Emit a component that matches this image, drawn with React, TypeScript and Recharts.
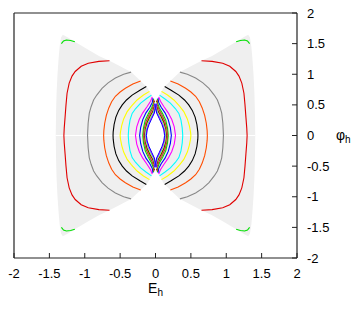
import React from 'react';
import { ComposedChart, Line, Area, XAxis, YAxis, ReferenceLine, Label } from 'recharts';

const xTicks = [-2, -1.5, -1, -0.5, 0, 0.5, 1, 1.5, 2];
const yTicks = [-2, -1.5, -1, -0.5, 0, 0.5, 1, 1.5, 2];

type P = [number, number];

// upper-right part of the shaded lobe: [x, low, high]
const lobeEdge: [number, number, number][] = [
  [0, 0.38, 0.48],
  [0.012, 0.37, 0.56],
  [0.03, 0.33, 0.6],
  [0.045, 0.29, 0.63],
  [0.057, 0.26, 0.66],
  [0.085, 0.19, 0.72],
  [0.112, 0.1, 0.775],
  [0.124, 0, 0.79],
  [0.13, 0, 0.8],
  [0.21, 0, 0.89],
  [0.345, 0, 1.035],
  [0.5, 0, 1.13],
  [0.65, 0, 1.22],
  [0.8, 0, 1.3],
  [0.95, 0, 1.4],
  [1.14, 0, 1.53],
  [1.25, 0, 1.61],
  [1.31, 0, 1.645],
  [1.335, 0, 1.6],
  [1.355, 0, 1.45],
  [1.37, 0, 1.25],
  [1.385, 0, 1.0],
  [1.398, 0, 0.7],
  [1.405, 0, 0.4],
  [1.41, 0, 0],
];

// upper-right quarter of each contour, from its top end down to phi = 0
const curveRed: P[] = [[0.65, 1.22], [0.8, 1.21], [0.95, 1.18], [1.05, 1.13], [1.135, 1.045], [1.18, 0.97], [1.22, 0.855], [1.25, 0.69], [1.265, 0.5], [1.278, 0.3], [1.29, 0.12], [1.295, 0]];
const curveGrey: P[] = [[0.345, 1.035], [0.45, 1.0], [0.567, 0.94], [0.67, 0.86], [0.756, 0.77], [0.83, 0.66], [0.875, 0.58], [0.91, 0.47], [0.936, 0.365], [0.952, 0.2], [0.96, 0]];
const curveOrange: P[] = [[0.21, 0.89], [0.32, 0.84], [0.426, 0.77], [0.5, 0.71], [0.567, 0.64], [0.62, 0.55], [0.66, 0.45], [0.695, 0.33], [0.718, 0.2], [0.73, 0.08], [0.733, 0]];
const curveBlack: P[] = [[0.13, 0.8], [0.22, 0.74], [0.33, 0.66], [0.41, 0.58], [0.47, 0.5], [0.52, 0.41], [0.56, 0.3], [0.585, 0.18], [0.598, 0.06], [0.6, 0]];
const curveYellow: P[] = [[0.085, 0.72], [0.17, 0.66], [0.26, 0.58], [0.34, 0.48], [0.4, 0.39], [0.45, 0.27], [0.478, 0.16], [0.495, 0.06], [0.5, 0]];
const curveCyan: P[] = [[0.057, 0.66], [0.13, 0.6], [0.21, 0.53], [0.28, 0.44], [0.33, 0.36], [0.36, 0.25], [0.378, 0.12], [0.385, 0]];
const curveMagenta: P[] = [[0.045, 0.63], [0.07, 0.56], [0.12, 0.47], [0.18, 0.37], [0.23, 0.26], [0.265, 0.14], [0.283, 0]];
const curveBlue: P[] = [[0.035, 0.61], [0.045, 0.54], [0.08, 0.46], [0.135, 0.37], [0.18, 0.26], [0.21, 0.13], [0.224, 0]];
const curveGreen: P[] = [[0.028, 0.595], [0.03, 0.53], [0.055, 0.45], [0.1, 0.36], [0.145, 0.25], [0.17, 0.12], [0.18, 0]];
const curveRed2: P[] = [[0.024, 0.585], [0.022, 0.51], [0.047, 0.43], [0.09, 0.34], [0.132, 0.23], [0.158, 0.11], [0.168, 0]];
const curveGrey2: P[] = [[0.021, 0.575], [0.018, 0.5], [0.04, 0.42], [0.083, 0.335], [0.125, 0.225], [0.151, 0.11], [0.161, 0]];
const curveOrange2: P[] = [[0.019, 0.565], [0.015, 0.49], [0.035, 0.41], [0.077, 0.325], [0.119, 0.22], [0.145, 0.105], [0.155, 0]];
const curveBlack2: P[] = [[0.017, 0.555], [0.012, 0.48], [0.031, 0.4], [0.072, 0.315], [0.113, 0.215], [0.139, 0.1], [0.149, 0]];
const curveYellow2: P[] = [[0.015, 0.545], [0.01, 0.47], [0.028, 0.39], [0.067, 0.305], [0.107, 0.205], [0.134, 0.1], [0.144, 0]];
const curveCyan2: P[] = [[0.013, 0.535], [0.008, 0.46], [0.025, 0.38], [0.062, 0.295], [0.102, 0.2], [0.129, 0.095], [0.139, 0]];
const curveMagenta2: P[] = [[0.011, 0.525], [0.006, 0.45], [0.021, 0.37], [0.057, 0.285], [0.097, 0.19], [0.124, 0.09], [0.134, 0]];
const curveBlue2: P[] = [[0.009, 0.515], [0.004, 0.44], [0.017, 0.365], [0.052, 0.28], [0.091, 0.18], [0.118, 0.09], [0.128, 0]];
// small corner arc (upper-right)
const greenArc: P[] = [[1.14, 1.53], [1.2, 1.55], [1.26, 1.56], [1.3, 1.545], [1.33, 1.5]];

const RED = '#e00000';
const GREEN = '#00e000';
const BLUE = '#0000ff';
const MAGENTA = '#ff00ff';
const CYAN = '#00ffff';
const YELLOW = '#ffff00';
const BLACK = '#000000';
const ORANGE = '#ff4d00';
const GREY = '#888888';

const contours: { pts: P[]; color: string }[] = [
  { pts: curveRed, color: RED },
  { pts: curveGrey, color: GREY },
  { pts: curveOrange, color: ORANGE },
  { pts: curveBlack, color: BLACK },
  { pts: curveYellow, color: YELLOW },
  { pts: curveCyan, color: CYAN },
  { pts: curveMagenta, color: MAGENTA },
  { pts: curveBlue, color: BLUE },
  { pts: curveGreen, color: GREEN },
  { pts: curveRed2, color: RED },
  { pts: curveGrey2, color: GREY },
  { pts: curveOrange2, color: ORANGE },
  { pts: curveBlack2, color: BLACK },
  { pts: curveYellow2, color: YELLOW },
  { pts: curveCyan2, color: CYAN },
  { pts: curveMagenta2, color: MAGENTA },
  { pts: curveBlue2, color: BLUE },
];

const toObj = (pts: P[], sx: number, sy: number) => pts.map(([x, y]) => ({ x: sx * x, y: sy * y }));
const halfCurve = (q: P[], sx: number) => {
  const full: P[] = q.concat(q.slice(0, -1).reverse().map(([x, y]) => [x, -y] as P));
  return toObj(full, sx, 1);
};
const lobe = (sx: number, sy: number) =>
  lobeEdge.map(([x, lo, hi]) => ({ x: sx * x, r: sy > 0 ? [lo, hi] : [-hi, -lo] }));

const FONT = '"Liberation Sans", Arial, Helvetica, sans-serif';
const AXIS = '#222222';

const XLabel = (props: any) => {
  const vb = props.viewBox || { x: 14, y: 258, width: 283, height: 54 };
  return (
    <text x={vb.x + vb.width / 2} y={vb.y + 35} textAnchor="middle" fontSize={14} fontFamily={FONT} fill="#000">
      E<tspan fontSize={10} dy={3}>h</tspan>
    </text>
  );
};
const YLabel = (props: any) => {
  const vb = props.viewBox || { x: 297, y: 13, width: 66, height: 245 };
  return (
    <text x={vb.x + 39} y={vb.y + vb.height / 2 + 4} textAnchor="start" fontSize={14} fontFamily={FONT} fill="#000">
      φ<tspan fontSize={10} dy={3}>h</tspan>
    </text>
  );
};

export default function App() {
  const lines: React.ReactNode[] = [];
  contours.forEach((c, i) => {
    [1, -1].forEach((sx) => {
      lines.push(
        <Line
          key={`c${i}_${sx}`}
          data={halfCurve(c.pts, sx)}
          dataKey="y"
          type="linear"
          stroke={c.color}
          strokeWidth={i >= 9 ? 1 : 1.1}
          dot={false}
          activeDot={false}
          isAnimationActive={false}
        />
      );
    });
  });
  [[1, 1], [1, -1], [-1, 1], [-1, -1]].forEach(([sx, sy], i) => {
    lines.push(
      <Line
        key={`g${i}`}
        data={toObj(greenArc, sx, sy)}
        dataKey="y"
        type="linear"
        stroke={GREEN}
        strokeWidth={1.1}
        dot={false}
        activeDot={false}
        isAnimationActive={false}
      />
    );
  });

  return (
    <div style={{ position: 'absolute', left: 0, top: 0 }}>
      <ComposedChart width={363} height={312} margin={{ top: 13, right: 0, bottom: 0, left: 14 }}>
        <XAxis
          dataKey="x"
          type="number"
          domain={[-2, 2]}
          ticks={xTicks}
          allowDataOverflow
          interval={0}
          height={54}
          tickSize={-5}
          tickMargin={16}
          axisLine={{ stroke: AXIS, strokeWidth: 1.2 }}
          tickLine={{ stroke: AXIS }}
          tick={{ fill: '#000', fontSize: 13, fontFamily: FONT }}
        >
          <Label content={XLabel} />
        </XAxis>
        <YAxis
          type="number"
          orientation="right"
          domain={[-2, 2]}
          ticks={yTicks}
          allowDataOverflow
          interval={0}
          width={66}
          tickSize={-5}
          tickMargin={15}
          axisLine={{ stroke: AXIS, strokeWidth: 1.2 }}
          tickLine={{ stroke: AXIS }}
          tick={{ fill: '#000', fontSize: 13, fontFamily: FONT, textAnchor: 'start' }}
        >
          <Label content={YLabel} />
        </YAxis>
        {[[1, 1], [1, -1], [-1, 1], [-1, -1]].map(([sx, sy], i) => (
          <Area
            key={`lobe${i}`}
            data={lobe(sx, sy)}
            dataKey="r"
            type="linear"
            stroke="none"
            fill="#efefef"
            fillOpacity={1}
            dot={false}
            activeDot={false}
            isAnimationActive={false}
          />
        ))}
        <Line
          data={[{ x: -1.41, y: 0 }, { x: 1.41, y: 0 }]}
          dataKey="y"
          stroke="#ffffff"
          strokeWidth={1}
          dot={false}
          activeDot={false}
          isAnimationActive={false}
        />
        {lines}
        <ReferenceLine x={-2} stroke={AXIS} strokeWidth={1.2} />
        <ReferenceLine y={2} stroke={AXIS} strokeWidth={1.2} />
      </ComposedChart>
    </div>
  );
}
